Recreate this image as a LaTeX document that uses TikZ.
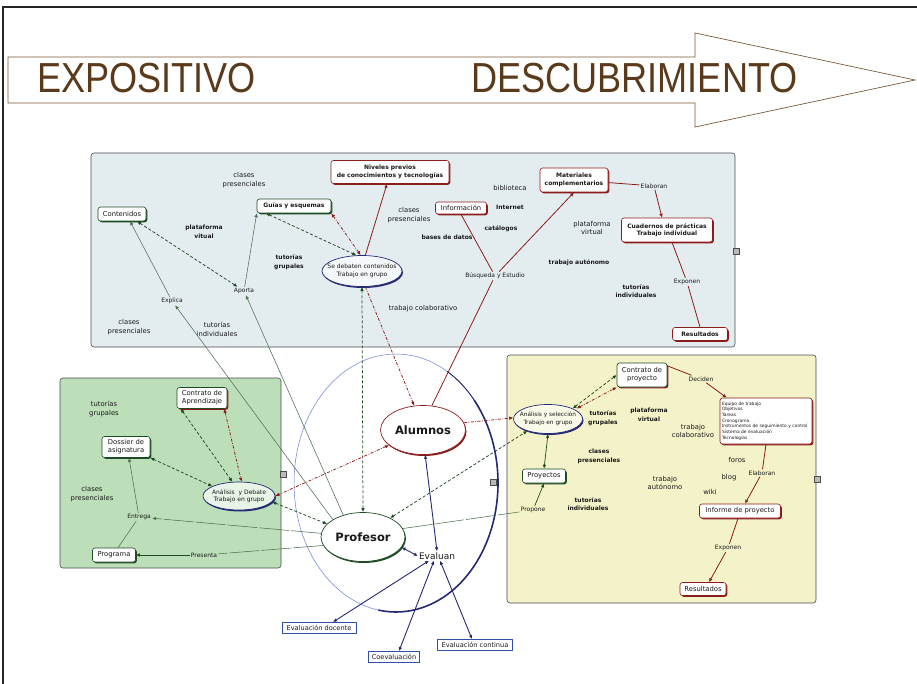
\documentclass[tikz,border=0pt]{standalone}
\usepackage{fontspec}
\setmainfont{DejaVu Sans}
\newfontfamily\hdrfont{Liberation Sans}
\usetikzlibrary{arrows.meta,shapes.geometric,shadows}
\definecolor{dgreen}{HTML}{1E4B23}
\definecolor{lgline}{HTML}{4F7052}
\definecolor{dred}{HTML}{8C1C1C}
\definecolor{navy}{HTML}{262A73}
\definecolor{lblue}{HTML}{6C7FD8}
\definecolor{ptop}{HTML}{E3EDF0}
\definecolor{pgreen}{HTML}{BCDFBA}
\definecolor{pyellow}{HTML}{F3F2C8}
\definecolor{hbrown}{HTML}{5B3A1B}
\definecolor{hline}{HTML}{7A5A3A}
\definecolor{bbox}{HTML}{3050A8}
\definecolor{txt}{HTML}{1A1A1A}
\newcommand{\fsBox}{\fontsize{6.8}{8.2}\selectfont}
\newcommand{\fsBold}{\fontsize{6}{7.5}\selectfont\bfseries}
\newcommand{\fsLab}{\fontsize{6.8}{8.7}\selectfont}
\newcommand{\fsLabB}{\fontsize{6}{8.7}\selectfont\bfseries}
\newcommand{\fsLnk}{\fontsize{6}{7}\selectfont}
\newcommand{\fsEll}{\fontsize{6}{7.5}\selectfont}
\begin{document}
\begin{tikzpicture}[x=1pt,y=-1pt,
 cbox/.style 2 args={rectangle, rounded corners=2.5pt, fill=white, draw=#1, line width=0.6pt, align=center, inner sep=1.2pt, font=\fsBox, text=txt, drop shadow={shadow xshift=1.3pt, shadow yshift=-1.3pt, fill=#2, opacity=1}},
 cell/.style 2 args={ellipse, fill=#2, draw=#1, line width=0.7pt, align=center, inner xsep=-18pt, inner ysep=0pt, font=\fsEll, text=txt, drop shadow={shadow xshift=1pt, shadow yshift=-1.5pt, fill=#1, opacity=1}},
 ebox/.style={rectangle, fill=white, draw=bbox, line width=0.9pt, font=\fontsize{6.6}{7.5}\selectfont, text=txt, inner sep=1.2pt},
 clab/.style={font=\fsLab, align=center, text=txt, inner sep=0.5pt},
 clabb/.style={font=\fsLabB, align=center, text=txt, inner sep=0.5pt},
 clnk/.style={font=\fsLnk, text=txt, inner sep=1.2pt},
 gsol/.style={draw=lgline, line width=0.55pt},
 rsol/.style={draw=dred, line width=0.8pt},
 gdsh/.style={draw=dgreen, line width=0.75pt, dash pattern=on 3pt off 2pt},
 rdd/.style={draw=dred, line width=0.75pt, dash pattern=on 3pt off 1.5pt on 0.8pt off 1.5pt},
 nav/.style={draw=navy, line width=0.9pt},
 carr/.style={-{Latex[length=4pt,width=3.6pt]}},
 cdarr/.style={{Latex[length=4pt,width=3.6pt]}-{Latex[length=4pt,width=3.6pt]}},
 icon/.style={draw=gray!60!black, fill=gray!55, line width=0.3pt}
]
\useasboundingbox (0,0) rectangle (917,684);
\fill[white] (0,0) rectangle (917,684);
% page frame
\draw[black!85, line width=1.2pt] (3,684) -- (3,7) -- (917,7);
% header arrow
\draw[hline, line width=0.7pt, fill=white] (8,57) -- (695,57) -- (695,33) -- (915,80) -- (695,127) -- (695,103) -- (8,103) -- cycle;
\node[anchor=base west, inner sep=0, font=\hdrfont\fontsize{42}{42}\selectfont, text=hbrown] (expo) at (37,93) {\scalebox{0.86}[1]{EXPOSITIVO}};
\node[anchor=base west, inner sep=0, font=\hdrfont\fontsize{42}{42}\selectfont, text=hbrown] (desc) at (471,93) {\scalebox{0.86}[1]{DESCUBRIMIENTO}};

% panels
\draw[rounded corners=3pt, fill=ptop, draw=gray!60!black, line width=0.6pt] (91,153) rectangle (735,347);
\draw[rounded corners=3pt, fill=pgreen, draw=gray!60!black, line width=0.6pt] (60,378) rectangle (281,568);
\draw[rounded corners=3pt, fill=pyellow, draw=gray!60!black, line width=0.6pt] (507,355) rectangle (816,603);

% big ellipse
\draw[lblue, line width=0.5pt] (396,483) ellipse [x radius=102, y radius=129];
\draw[navy, line width=0.9pt] (396,483) ++(-60:102 and 129) arc[start angle=-60, end angle=-35, x radius=102, y radius=129];
\draw[navy, line width=1.6pt] (396,483) ++(-40:102 and 129) arc[start angle=-40, end angle=100, x radius=102, y radius=129];

% icons
\draw[icon] (280,471) rectangle (286,477);
\draw[icon] (490,479) rectangle (496,485);
\draw[icon] (733,248) rectangle (739,254);
\draw[icon] (814,476) rectangle (820,482);

% ---------- top panel nodes ----------
\node[cbox={dgreen}{dgreen}, minimum width=48, minimum height=14] (cont) at (122,214) {Contenidos};
\node[cbox={dgreen}{dgreen}, font=\fsBold, minimum width=74, minimum height=14] (guias) at (294,206) {Guías y esquemas};
\node[cbox={dred}{dred}, font=\fsBold, minimum width=118, minimum height=23] (niveles) at (390,172) {Niveles previos\\de conocimientos y tecnologías};
\node[cbox={dred}{dred}, minimum width=51, minimum height=12] (info) at (461,208) {Información};
\node[cbox={dred}{dred}, font=\fsBold, minimum width=68, minimum height=24] (mater) at (574,180) {Materiales\\complementarios};
\node[cbox={dred}{dred}, font=\fsBold, minimum width=91, minimum height=24] (cuad) at (667,230) {Cuadernos de prácticas\\Trabajo individual};
\node[cbox={dred}{dred}, font=\fsBold, minimum width=55, minimum height=13] (res1) at (700,334) {Resultados};
\node[cell={navy}{ptop!40!white}, minimum width=80, minimum height=31] (debaten) at (362,271) {Se debaten contenidos\\Trabajo en grupo};
\node[clnk] (explica) at (172,301) {Explica};
\node[clnk] (aporta) at (244,291) {Aporta};
\node[clnk] (busq) at (495,276) {Búsqueda y Estudio};
\node[clnk] (elab1) at (654,186) {Elaboran};
\node[clnk] (expon1) at (687,282) {Exponen};

\node[clab] (l1) at (244,180) {clases\\presenciales};
\node[clabb] (l2) at (204,232) {plataforma\\vitual};
\node[clabb] (l3) at (289,262) {tutorías\\grupales};
\node[clab] (l4) at (129,327) {clases\\presenciales};
\node[clab] (l5) at (217,329) {tutorías\\individuales};
\node[clab] (l6) at (409,215) {clases\\presenciales};
\node[clab] (l7) at (510,188) {biblioteca};
\node[clabb] (l8) at (510,207) {Internet};
\node[clabb] (l9) at (501,229) {catálogos};
\node[clabb] (l10) at (447,237) {bases de datos};
\node[clab] (l11) at (592,228) {plataforma\\virtual};
\node[clabb] (l12) at (579,263) {trabajo autónomo};
\node[clabb] (l13) at (636,291) {tutorías\\individuales};
\node[clab] (l14) at (423,309) {trabajo colaborativo};

% ---------- green panel nodes ----------
\node[cbox={dgreen}{dred}, minimum width=50, minimum height=21] (contA) at (202,398) {Contrato de\\Aprendizaje};
\node[cbox={dgreen}{dgreen}, minimum width=48, minimum height=21] (dossier) at (126,447) {Dossier de\\asignatura};
\node[cbox={dgreen}{dgreen}, minimum width=43, minimum height=14] (prog) at (114,555) {Programa};
\node[cell={navy}{pgreen!35!white}, minimum width=72, minimum height=28] (anDeb) at (239,496) {Análisis \ y Debate\\Trabajo en grupo};
\node[clnk] (entrega) at (139,517) {Entrega};
\node[clnk] (presenta) at (204,555) {Presenta};
\node[clab] (l15) at (104,409) {tutorías\\grupales};
\node[clab] (l16) at (92,494) {clases\\presenciales};

% ---------- yellow panel nodes ----------
\node[cbox={dgreen}{dred}, minimum width=50, minimum height=24] (contP) at (642,375) {Contrato de\\proyecto};
\node[cell={navy}{pyellow!40!white}, font=\fontsize{5.8}{7.5}\selectfont, minimum width=69, minimum height=29] (anSel) at (548,419) {Análisis y selección\\Trabajo en grupo};
\node[cbox={dgreen}{dgreen}, minimum width=43, minimum height=14] (proy) at (544,476) {Proyectos};
\node[cbox={dred}{dred}, minimum width=92, minimum height=46, align=left, font=\fontsize{4.4}{5.7}\selectfont, text width=88, inner xsep=1pt] (lista) at (766,421) {Equipo de trabajo\\Objetivos\\Tareas\\Cronograma\\Instrumentos de seguimiento y control\\Sistema de evaluación\\Tecnologías};
\node[cbox={dred}{dred}, minimum width=81, minimum height=14] (informe) at (740,511) {Informe de proyecto};
\node[cbox={dred}{dred}, minimum width=46, minimum height=13] (res2) at (703,589) {Resultados};
\node[clnk] (deciden) at (701,379) {Deciden};
\node[clnk] (elab2) at (762,473) {Elaboran};
\node[clnk] (expon2) at (728,548) {Exponen};
\node[clnk] (propone) at (533,510) {Propone};
\node[clabb] (l17) at (603,418) {tutorías\\grupales};
\node[clabb] (l18) at (649,415) {plataforma\\virtual};
\node[clab] (l19) at (693,431) {trabajo\\colaborativo};
\node[clabb] (l20) at (599,456) {clases\\presenciales};
\node[clab] (l21) at (737,460) {foros};
\node[clab] (l22) at (729,478) {blog};
\node[clab] (l23) at (710,492) {wiki};
\node[clab] (l24) at (665,483) {trabajo\\autónomo};
\node[clabb] (l25) at (588,504) {tutorías\\individuales};

% ---------- center nodes ----------
\node[cell={dred}{white}, inner xsep=0pt, font=\fontsize{11.5}{13}\selectfont\bfseries, minimum width=85, minimum height=49] (alum) at (423,430) {Alumnos};
\node[cell={dgreen}{white}, inner xsep=0pt, font=\fontsize{11.5}{13}\selectfont\bfseries, minimum width=84, minimum height=49] (prof) at (363,537) {Profesor};
\node[font=\fontsize{9}{10}\selectfont, text=txt, inner sep=1pt] (evaluan) at (437,556) {Evaluan};
\node[ebox, minimum width=74, minimum height=11] (evd) at (319,628) {Evaluación docente};
\node[ebox, minimum width=51, minimum height=11] (coev) at (394,657) {Coevaluación};
\node[ebox, minimum width=75, minimum height=11] (evc) at (475,645) {Evaluación continua};

% ---------- connectors: top panel ----------
\draw[gsol, carr] (prof.150) -- (explica);
\draw[gsol, carr] (explica) -- ([xshift=8pt]cont.south);
\draw[gsol, carr] (prof.132) -- (aporta);
\draw[gsol, carr] (aporta) -- (guias.south west);
\draw[gdsh, cdarr] ([xshift=15pt]cont.south) -- (aporta);
\draw[gdsh, cdarr] ([xshift=-28pt]guias.south) -- (debaten.110);
\draw[rdd, cdarr] (guias.south east) -- (debaten.95);
\draw[rsol, carr] (debaten.78) -- ([xshift=-3pt]niveles.south);
\draw[gdsh, cdarr] (debaten.south) -- (prof.north);
\draw[rdd, carr] (debaten.-78) -- (alum.110);
\draw[rsol] (alum.70) -- (busq);
\draw[rsol] (busq) -- (info.south);
\draw[rsol, carr] (busq) -- (mater.south);
\draw[rsol] (mater) -- (elab1);
\draw[rsol, carr] (elab1) -- ([xshift=-5pt]cuad.north);
\draw[rsol] ([xshift=5pt]cuad.south) -- (expon1);
\draw[rsol] (expon1) -- (res1.north);

% ---------- connectors: green panel ----------
\draw[gdsh, cdarr] ([xshift=4pt]contA.south west) -- (anDeb.115);
\draw[rdd, cdarr] ([xshift=-3pt]contA.south east) -- (anDeb.80);
\draw[gdsh, cdarr] (dossier.south east) -- (anDeb.160);
\draw[gsol, carr] (entrega) -- ([xshift=3pt]dossier.south);
\draw[gsol] (entrega) -- ([xshift=4pt]prog.north);
\draw[gsol, carr, dash pattern=on 30pt off 2pt] (prof.175) -- (entrega);
\draw[gsol, dash pattern=on 30pt off 2pt] (prof.192) -- (presenta);
\draw[draw=dgreen, line width=0.7pt, carr] (presenta) -- (prog);
\draw[gdsh, cdarr] (anDeb.-10) -- (prof.160);
\draw[rdd, cdarr] (alum.204) -- (anDeb.0);

% ---------- connectors: yellow panel ----------
\draw[rdd, carr] (alum.10) -- (anSel.178);
\draw[gdsh, cdarr] (prof.35) -- (anSel.210);
\draw[gdsh, cdarr] (anSel.north east) -- (contP.west);
\draw[rdd, cdarr] ([xshift=4pt]anSel.north east) -- (contP.south west);
\draw[draw=dgreen, line width=0.7pt, cdarr] (anSel.south) -- (proy.north);
\draw[gsol, dash pattern=on 30pt off 2pt] (prof.12) -- (propone);
\draw[draw=dgreen, line width=0.7pt, carr] (propone) -- (proy.south);
\draw[rsol] (contP.20) -- (deciden);
\draw[rsol, carr] (deciden) -- ([xshift=7pt]lista.north west);
\draw[rsol] (lista.south) -- (elab2);
\draw[rsol, carr] (elab2) -- ([xshift=5pt]informe.north);
\draw[rsol] ([xshift=-2pt]informe.south) -- (expon2);
\draw[rsol, carr] (expon2) -- ([xshift=6pt]res2.north);

% ---------- connectors: centre ----------
\draw[nav, cdarr] (alum.-85) -- (evaluan.north);
\draw[nav, cdarr] (prof.-15) -- (evaluan.west);
\draw[nav, cdarr] ([xshift=-8pt]evaluan.south) -- ([xshift=14pt]evd.north);
\draw[nav, cdarr] ([xshift=-3pt]evaluan.south) -- ([xshift=5pt]coev.north);
\draw[nav, cdarr] ([xshift=3pt]evaluan.south) -- ([xshift=-3pt]evc.north);
\end{tikzpicture}
\end{document}
